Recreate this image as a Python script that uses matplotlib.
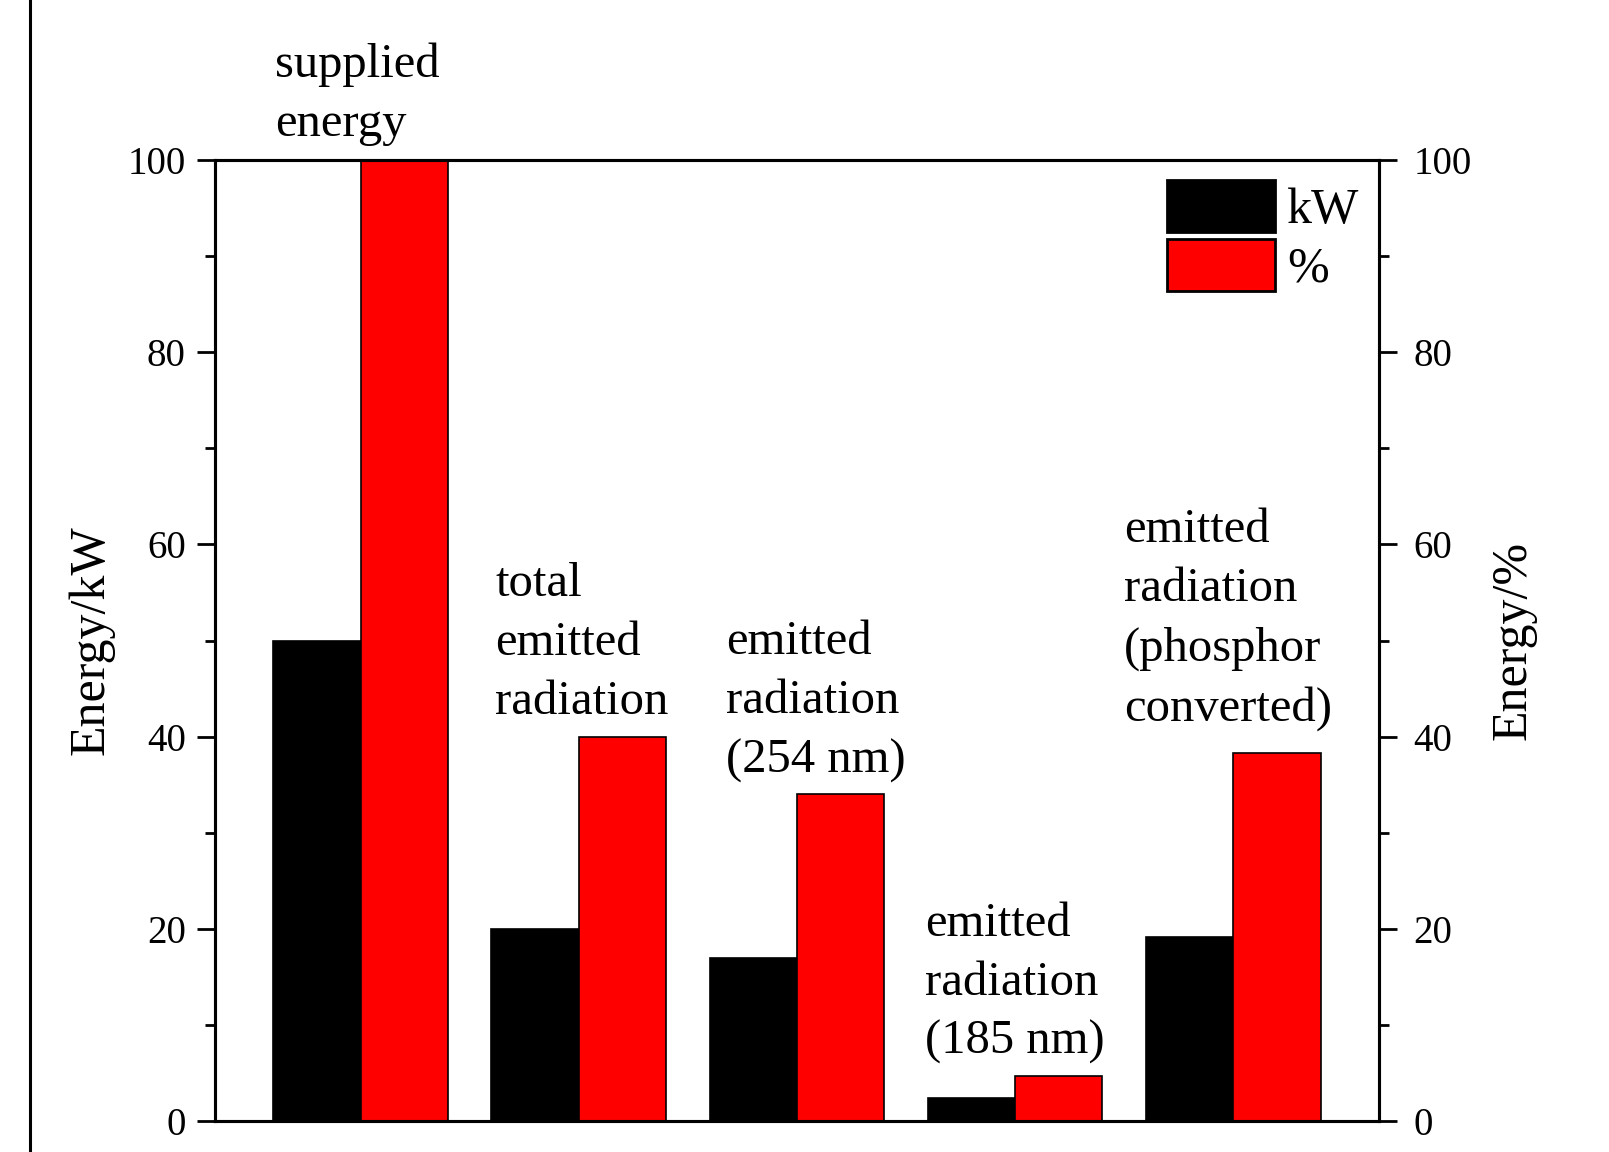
import matplotlib
matplotlib.use("Agg")
import matplotlib.pyplot as plt
from matplotlib.lines import Line2D
from matplotlib.ticker import MultipleLocator
import numpy as np

plt.rcParams['font.family'] = ['Liberation Serif', 'DejaVu Serif']

# energy balance of the lamp, absolute (kW) and relative to supply (%)
categories = ['supplied\nenergy',
              'total\nemitted\nradiation',
              'emitted\nradiation\n(254 nm)',
              'emitted\nradiation\n(185 nm)',
              'emitted\nradiation\n(phosphor\nconverted)']
energy_kw = [50.0, 20.0, 17.0, 2.35, 19.1]
energy_pct = [100.0, 40.0, 34.0, 4.7, 38.3]

# where each category caption sits (x in group units, y = bottom of text)
label_x = [-0.39, 0.617, 1.676, 2.587, 3.498]
label_y = [101.5, 41.3, 35.2, 5.9, 40.6]

fig = plt.figure(figsize=(16.09, 11.52), dpi=100)
ax = fig.add_axes([0.1336, 0.0269, 0.7234, 0.8342])

x = np.arange(len(categories))
w = 0.4
ax.bar(x - w / 2, energy_kw, w, color='black', edgecolor='black',
       linewidth=1.2, label='kW', zorder=2)
ax.bar(x + w / 2, energy_pct, w, color='#ff0000', edgecolor='black',
       linewidth=1.2, label='%', zorder=2)

ax.set_xlim(-0.667, 4.667)
ax.set_ylim(0, 100)
ax.set_xticks([])
ax.yaxis.set_major_locator(MultipleLocator(20))
ax.yaxis.set_minor_locator(MultipleLocator(10))
ax.tick_params(axis='y', which='major', direction='out', length=13, width=2,
               labelsize=28, pad=8)
ax.tick_params(axis='y', which='minor', direction='out', length=7, width=2)
ax.set_ylabel('Energy/kW', fontsize=36, labelpad=9)
for s in ax.spines.values():
    s.set_linewidth(2.2)

# right-hand axis shows the same scale in percent
ax2 = ax.twinx()
ax2.set_ylim(0, 100)
ax2.yaxis.set_major_locator(MultipleLocator(20))
ax2.yaxis.set_minor_locator(MultipleLocator(10))
ax2.tick_params(axis='y', which='major', direction='out', length=13, width=2,
                labelsize=28, pad=12)
ax2.tick_params(axis='y', which='minor', direction='out', length=7, width=2)
ax2.set_ylabel('Energy/%', fontsize=36, labelpad=13)
for s in ax2.spines.values():
    s.set_linewidth(2.2)

for lx, ly, txt in zip(label_x, label_y, categories):
    ax.text(lx, ly, txt, fontsize=35, ha='left', va='bottom',
            linespacing=1.44, clip_on=False, zorder=3)

leg = ax.legend(loc='upper left', bbox_to_anchor=(0.8176, 0.979),
                frameon=False, fontsize=36, handlelength=2.16,
                handleheight=1.22, handletextpad=0.25, labelspacing=0.1,
                borderpad=0, borderaxespad=0)
for p in leg.get_patches():
    p.set_linewidth(2)

# vertical rule along the left edge
fig.add_artist(Line2D([30 / 1609, 30 / 1609], [0, 1], color='black',
                      linewidth=2.2, transform=fig.transFigure))

fig.savefig('out.png', dpi=100)
